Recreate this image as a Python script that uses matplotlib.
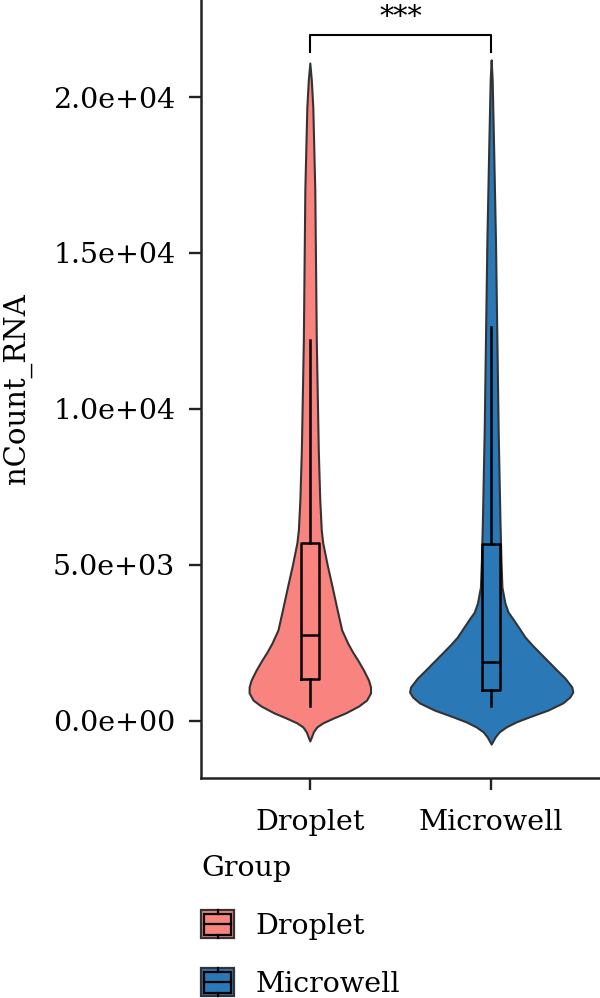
import numpy as np
import matplotlib
matplotlib.use("Agg")
import matplotlib.pyplot as plt
from matplotlib.patches import Rectangle
from matplotlib.lines import Line2D
from matplotlib.legend_handler import HandlerBase

plt.rcParams['font.family'] = ['DejaVu Serif']

# ---------------- data ----------------
groups = ["Droplet", "Microwell"]
colors = ["#F9837F", "#2B78B7"]

# violin outline: y value (thousands) -> relative density
droplet_y = [21.09, 20.55, 19.68, 17.02, 12.21, 8.69, 7.08, 6.12, 5.71, 5.00,
             4.29, 3.56, 2.92, 2.50, 2.21, 1.96, 1.63, 1.31, 1.09, 0.90,
             0.67, 0.48, 0.26, 0.10, -0.06, -0.19, -0.35, -0.48, -0.64]
droplet_d = [0, 1.5, 3, 5, 6.5, 8.5, 10, 11.5, 13, 17.5,
             22.5, 27.5, 32, 38, 43, 48, 54, 59, 61, 61,
             57, 49, 36, 24, 13, 7, 3.5, 2, 0]
microwell_y = [21.19, 20.54, 18.62, 15.42, 12.31, 9.33, 6.44, 5.16, 4.29, 3.78,
               3.49, 3.24, 2.98, 2.69, 2.44, 2.18, 1.89, 1.63, 1.38, 1.09,
               0.93, 0.77, 0.58, 0.35, 0.13, -0.03, -0.19, -0.35, -0.51, -0.74]
microwell_d = [0, 1, 2.3, 4.3, 5.7, 7, 8.8, 9.8, 10.8, 13.8,
               17, 22.5, 28, 34, 41, 49, 58, 66, 74, 81,
               82, 79, 72, 57, 38, 25, 15, 8, 4, 0]

# boxplot summaries
q1 = [1346, 994]
med = [2756, 1891]
q3 = [5705, 5673]
whis_lo = [481, 481]
whis_hi = [12212, 12628]

# significance bracket
sig_label = "***"
bracket_low = 21442
bracket_high = 21987
sig_text_y = 22550

yticks = [0, 5000, 10000, 15000, 20000]
ytick_labels = ["0.0e+00", "5.0e+03", "1.0e+04", "1.5e+04", "2.0e+04"]

FS = 20.5


class BoxKeyHandler(HandlerBase):
    # ggplot-style key: violin fill with a small boxplot on top
    def create_artists(self, legend, orig_handle, xdescent, ydescent,
                       width, height, fontsize, trans):
        fc = orig_handle.get_facecolor()
        x0, y0 = -xdescent, -ydescent
        outer = Rectangle((x0, y0), width, height, facecolor=fc,
                          edgecolor="#333333", lw=1.6, transform=trans)
        ix0, ix1 = x0 + 0.1 * width, x0 + 0.9 * width
        iy0, iy1 = y0 + 0.12 * height, y0 + 0.88 * height
        inner = Rectangle((ix0, iy0), ix1 - ix0, iy1 - iy0, facecolor="none",
                          edgecolor="black", lw=1.6, transform=trans)
        cx = x0 + width / 2
        cy = y0 + height / 2
        mline = Line2D([ix0, ix1], [cy, cy], color="black", lw=1.6, transform=trans)
        w1 = Line2D([cx, cx], [y0, iy0], color="black", lw=1.6, transform=trans)
        w2 = Line2D([cx, cx], [iy1, y0 + height], color="black", lw=1.6, transform=trans)
        return [outer, inner, mline, w1, w2]


fig = plt.figure(figsize=(6, 9.98), dpi=100)
ax = fig.add_axes([201 / 600, 1 - 778 / 998, 399 / 600, 778 / 998])

positions = [1, 2]
dens = [np.array(droplet_d, float), np.array(microwell_d, float)]
ys = [np.array(droplet_y) * 1000, np.array(microwell_y) * 1000]
gmax = max(d.max() for d in dens)

for i in range(2):
    st = {"coords": ys[i], "vals": dens[i], "mean": med[i], "median": med[i],
          "min": ys[i].min(), "max": ys[i].max()}
    parts = ax.violin([st], positions=[positions[i]],
                      widths=0.9 * dens[i].max() / gmax,
                      showmeans=False, showextrema=False, showmedians=False)
    for b in parts["bodies"]:
        b.set_facecolor(colors[i])
        b.set_edgecolor("#333333")
        b.set_linewidth(1.5)
        b.set_joinstyle("round")
        b.set_alpha(1)

box_stats = []
for i in range(2):
    box_stats.append({"q1": q1[i], "med": med[i], "q3": q3[i],
                      "whislo": whis_lo[i], "whishi": whis_hi[i], "fliers": []})
ax.bxp(box_stats, positions=positions, widths=0.1, showfliers=False,
       showcaps=False, patch_artist=False,
       boxprops=dict(color="black", lw=1.8),
       medianprops=dict(color="black", lw=1.8),
       whiskerprops=dict(color="black", lw=1.8))

ax.plot([1, 1, 2, 2], [bracket_low, bracket_high, bracket_high, bracket_low],
        color="black", lw=1.5)
ax.text(1.5, sig_text_y, sig_label, ha="center", va="center", fontsize=FS)

ax.set_xlim(0.4, 2.6)
ax.set_ylim(-1827, 23109)
ax.set_xticks(positions)
ax.set_xticklabels(groups)
ax.set_yticks(yticks)
ax.set_yticklabels(ytick_labels)
ax.set_ylabel("nCount_RNA", fontsize=21, labelpad=15)
ax.tick_params(labelsize=FS, length=8.5, width=1.7, color="#222222")
ax.tick_params(axis="y", pad=10)
ax.tick_params(axis="x", pad=14)
ax.spines["top"].set_visible(False)
ax.spines["right"].set_visible(False)
for s in ["left", "bottom"]:
    ax.spines[s].set_linewidth(1.8)
    ax.spines[s].set_color("#222222")

handles = [Rectangle((0, 0), 1, 1, facecolor=c) for c in colors]
fig.legend(handles, groups, title="Group", loc="upper left",
           bbox_to_anchor=(201 / 600, 1 - 855 / 998), frameon=False,
           fontsize=FS, title_fontsize=FS, alignment="left",
           handler_map={Rectangle: BoxKeyHandler()},
           handlelength=1.17, handleheight=1.12, handletextpad=0.75,
           labelspacing=1.0, borderpad=0, borderaxespad=0)

fig.savefig("out.png", dpi=100)
